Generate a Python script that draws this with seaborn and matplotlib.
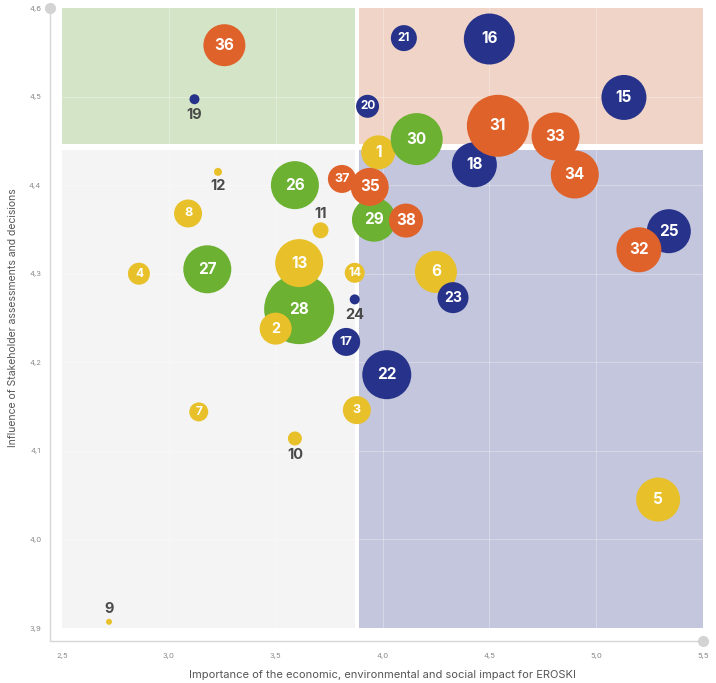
# Materiality matrix: bubble chart of EROSKI material topics

import pandas as pd
import seaborn as sns
import matplotlib.pyplot as plt
from matplotlib.patches import Rectangle

topic_id = list(range(1, 39))
importance = [3.98, 3.50, 3.88, 2.86, 5.29, 4.25, 3.14, 3.09, 2.72, 3.59,
              3.71, 3.23, 3.61, 3.87, 5.13, 4.50, 3.83, 4.43, 3.12, 3.93,
              4.10, 4.02, 4.33, 3.87, 5.34, 3.59, 3.18, 3.61, 3.96, 4.16,
              4.54, 5.20, 4.81, 4.90, 3.94, 3.26, 3.81, 4.11]
influence = [4.437, 4.238, 4.146, 4.300, 4.045, 4.302, 4.144, 4.368, 3.907, 4.114,
             4.349, 4.415, 4.312, 4.301, 4.499, 4.565, 4.223, 4.423, 4.497, 4.489,
             4.566, 4.186, 4.273, 4.271, 4.348, 4.400, 4.305, 4.260, 4.361, 4.452,
             4.467, 4.327, 4.455, 4.412, 4.398, 4.558, 4.407, 4.360]
# relative bubble weight (radius-like)
weight = [17, 16, 14, 11, 22, 21, 9.5, 14, 3, 7,
          8, 4, 24, 10, 22.5, 25.5, 14, 22.5, 5, 11.5,
          13, 24.5, 15.5, 5, 22, 24, 24, 35, 22, 26,
          31, 22.5, 24, 24, 19, 21, 14, 17]
group = ["yellow"] * 14 + ["navy"] * 11 + ["green"] * 5 + ["orange"] * 8

x_ticks = [2.5, 3.0, 3.5, 4.0, 4.5, 5.0, 5.5]
y_ticks = [3.9, 4.0, 4.1, 4.2, 4.3, 4.4, 4.5, 4.6]
x_split, y_split = 3.88, 4.443

palette = {"yellow": "#E8C12A", "navy": "#27338A",
           "green": "#6CB131", "orange": "#E0622B"}

# small bubbles get an outside label: offset in points
outside = {9: 9, 10: -12, 11: 12, 12: -10, 19: -11, 24: -11}

df = pd.DataFrame({"id": topic_id, "x": importance, "y": influence,
                   "w": weight, "group": group})
df["area"] = df["w"] ** 2
# 28 drawn first so 13 and 2 sit on top of it
df = pd.concat([df[df.id == 28], df[df.id != 28]])

sns.set_theme(style="white")
plt.rcParams["font.family"] = ["Inter", "DejaVu Sans"]

fig = plt.figure(figsize=(7.16, 6.83), dpi=100)
ax = fig.add_axes([62 / 716, 55 / 683, 641 / 716, 620 / 683])
ax.set_xlim(2.5, 5.5)
ax.set_ylim(3.9, 4.6)

gx, gy = 0.009, 0.003
quads = [
    (2.5, y_split + gy, x_split - gx - 2.5, 4.6 - y_split - gy, "#D4E4C6"),
    (x_split + gx, y_split + gy, 5.5 - x_split - gx, 4.6 - y_split - gy, "#F0D4C7"),
    (2.5, 3.9, x_split - gx - 2.5, y_split - gy - 3.9, "#F4F4F5"),
    (x_split + gx, 3.9, 5.5 - x_split - gx, y_split - gy - 3.9, "#C3C6DD"),
]
for x0, y0, w, h, c in quads:
    ax.add_patch(Rectangle((x0, y0), w, h, facecolor=c, edgecolor="none", zorder=0))

for xv in x_ticks[1:-1]:
    ax.axvline(xv, color="white", lw=0.8, alpha=0.3, zorder=0.5)
for yv in y_ticks[1:-1]:
    ax.axhline(yv, color="white", lw=0.8, alpha=0.3, zorder=0.5)

s_per_area = (1.44) ** 2
amin, amax = df["area"].min(), df["area"].max()
sns.scatterplot(data=df, x="x", y="y", hue="group", palette=palette,
                size="area", sizes=(amin * s_per_area, amax * s_per_area),
                size_norm=(amin, amax), linewidth=0, alpha=1,
                legend=False, ax=ax, zorder=2)

for _, r in df.iterrows():
    tid = int(r["id"])
    if tid in outside:
        ax.annotate(str(tid), (r["x"], r["y"]), xytext=(0, outside[tid]),
                    textcoords="offset points", ha="center", va="center",
                    fontsize=10.5, fontweight="bold", color="#4A4A4A", zorder=4)
    else:
        fs = min(max(r["w"] * 0.65, 8.5), 11)
        ax.text(r["x"], r["y"], str(tid), ha="center", va="center",
                fontsize=fs, fontweight="bold", color="white", zorder=4)

for sp in ax.spines.values():
    sp.set_visible(False)
ox, oy = -12 / 641, -13 / 620
ax.plot([ox, ox], [oy, 1], transform=ax.transAxes, color="#D6D6D6",
        lw=1, clip_on=False)
ax.plot([ox, 1], [oy, oy], transform=ax.transAxes, color="#D6D6D6",
        lw=1, clip_on=False)
ax.plot([ox, 1], [1, oy], ls="none", marker="o", ms=7, color="#D3D3D3",
        transform=ax.transAxes, clip_on=False)

ax.set_xticks(x_ticks)
ax.set_xticklabels([f"{v:.1f}".replace(".", ",") for v in x_ticks])
ax.set_yticks(y_ticks)
ax.set_yticklabels([f"{v:.1f}".replace(".", ",") for v in y_ticks])
ax.tick_params(axis="both", length=0, labelsize=5.5, labelcolor="#8A8A8A")
ax.tick_params(axis="x", pad=18)
ax.tick_params(axis="y", pad=15)

ax.set_xlabel("Importance of the economic, environmental and social impact for EROSKI",
              fontsize=8, color="#555555", labelpad=8)
ax.set_ylabel("Influence of Stakeholder assessments and decisions",
              fontsize=7.5, color="#555555", labelpad=8)

fig.savefig("out.png", dpi=100)
